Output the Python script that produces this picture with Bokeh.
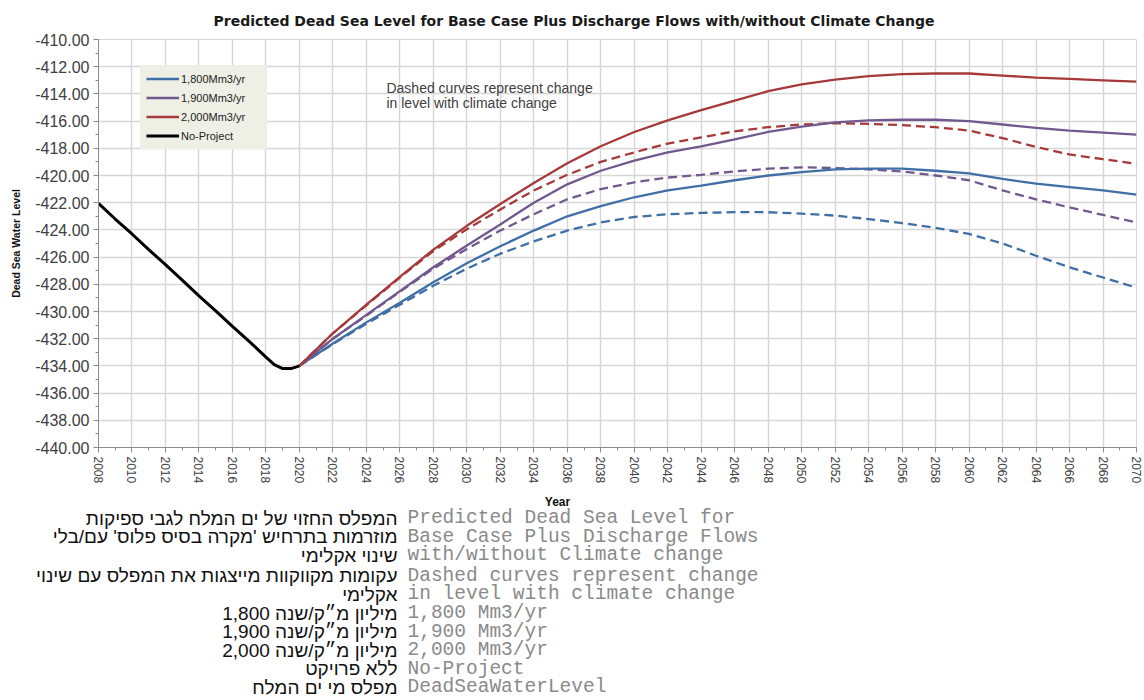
from bokeh.plotting import figure
from bokeh.models import (ColumnDataSource, FixedTicker, NumeralTickFormatter, Legend,
                          LegendItem, Label, Range1d, Title)
from bokeh.embed import file_html
from bokeh.resources import INLINE
from bokeh.core.properties import value

# ---------------- data ----------------
years_noproj = [2008, 2009, 2010, 2011, 2012, 2013, 2014, 2015, 2016, 2017, 2018,
                2018.5, 2019, 2019.5, 2020]
level_noproj = [-422.05, -423.2, -424.3, -425.45, -426.55, -427.7, -428.85, -429.95,
                -431.1, -432.2, -433.35, -433.9, -434.2, -434.2, -434.0]

years_proj = list(range(2020, 2071, 2))

flow_1800 = [-434.0, -432.35, -430.8, -429.35, -427.85, -426.45, -425.2, -424.05, -423.0,
             -422.25, -421.6, -421.1, -420.75, -420.35, -420.0, -419.75, -419.55, -419.5,
             -419.5, -419.65, -419.85, -420.25, -420.6, -420.85, -421.1, -421.4]
flow_1800_cc = [-434.0, -432.4, -430.9, -429.5, -428.1, -426.85, -425.75, -424.85, -424.05,
                -423.45, -423.05, -422.85, -422.75, -422.7, -422.7, -422.8, -422.95, -423.2,
                -423.5, -423.85, -424.3, -425.0, -425.9, -426.75, -427.5, -428.25]
flow_1900 = [-434.0, -432.0, -430.25, -428.5, -426.75, -425.15, -423.6, -422.0, -420.65,
             -419.65, -418.9, -418.3, -417.85, -417.35, -416.8, -416.4, -416.1, -415.95,
             -415.9, -415.9, -416.0, -416.25, -416.5, -416.7, -416.85, -417.0]
flow_1900_cc = [-434.0, -432.0, -430.3, -428.55, -426.85, -425.4, -424.05, -422.85, -421.75,
                -421.0, -420.5, -420.15, -419.95, -419.7, -419.5, -419.4, -419.45, -419.55,
                -419.7, -420.0, -420.35, -421.1, -421.75, -422.35, -422.9, -423.45]
flow_2000 = [-434.0, -431.6, -429.5, -427.45, -425.45, -423.7, -422.1, -420.55, -419.1,
             -417.85, -416.8, -415.95, -415.2, -414.5, -413.8, -413.3, -412.95, -412.7,
             -412.55, -412.5, -412.5, -412.65, -412.8, -412.9, -413.0, -413.1]
flow_2000_cc = [-434.0, -431.6, -429.55, -427.5, -425.55, -423.95, -422.5, -421.1, -419.95,
                -419.0, -418.3, -417.65, -417.2, -416.75, -416.45, -416.25, -416.15, -416.2,
                -416.3, -416.45, -416.7, -417.25, -417.9, -418.45, -418.8, -419.15]

series_labels = ["1,800Mm3/yr", "1,900Mm3/yr", "2,000Mm3/yr", "No-Project"]

y_major = list(range(-440, -409, 2))
y_minor = list(range(-440, -409, 1))
x_major = list(range(2008, 2071, 2))
x_minor = list(range(2008, 2071, 1))

title_text = "Predicted Dead Sea Level for Base Case Plus Discharge Flows with/without Climate Change"
note_lines = ["Dashed curves represent change", "in level with climate change"]
x_title = "Year"
y_title = "Dead Sea Water Level"

hebrew_rows = ["המפלס החזוי של ים המלח לגבי ספיקות",
               "מוזרמות בתרחיש 'מקרה בסיס פלוס' עם/בלי",
               "שינוי אקלימי",
               "עקומות מקווקוות מייצגות את המפלס עם שינוי",
               "אקלימי",
               "1,800 מיליון מ״ק/שנה",
               "1,900 מיליון מ״ק/שנה",
               "2,000 מיליון מ״ק/שנה",
               "ללא פרויקט",
               "מפלס מי ים המלח"]
english_rows = ["Predicted Dead Sea Level for",
                "Base Case Plus Discharge Flows",
                "with/without Climate change",
                "Dashed curves represent change",
                "in level with climate change",
                "1,800 Mm3/yr",
                "1,900 Mm3/yr",
                "2,000 Mm3/yr",
                "No-Project",
                "DeadSeaWaterLevel"]

# ---------------- styles ----------------
BLUE = "#3f6fa6"
PURPLE = "#71598f"
RED = "#a63a3a"
GRID = "#d6d6d6"
AXIS = "#8c8c8c"
TXT = "#404040"

W = 1144
H1 = 490
H2 = 210

p = figure(width=W, height=H1, output_backend="svg", toolbar_location=None,
           x_range=Range1d(2008, 2070), y_range=Range1d(-440, -410),
           min_border_left=98, min_border_right=8, min_border_top=38, min_border_bottom=43,
           background_fill_color="white", border_fill_color="white")
p.title = Title(text=title_text, align="left", offset=115, standoff=21,
                text_font="DejaVu Sans", text_font_size="14px", text_font_style="bold",
                text_color="#1a1a1a")

p.xaxis.ticker = FixedTicker(ticks=x_major, minor_ticks=x_minor)
p.yaxis.ticker = FixedTicker(ticks=y_major, minor_ticks=y_minor)
p.yaxis.formatter = NumeralTickFormatter(format="0.00")
p.xaxis.major_label_orientation = "vertical"

for ax in (p.xaxis, p.yaxis):
    ax.axis_line_color = AXIS
    ax.major_tick_line_color = AXIS
    ax.minor_tick_line_color = AXIS
    ax.major_tick_out = 5
    ax.major_tick_in = 0
    ax.minor_tick_out = 3
    ax.minor_tick_in = 0
    ax.major_label_text_color = TXT
    ax.major_label_text_font = "Liberation Sans"

p.yaxis.major_label_text_font_size = "16px"
p.yaxis.major_label_standoff = 4
p.xaxis.major_label_text_font_size = "12px"
p.xaxis.major_label_standoff = 4

p.yaxis.axis_label = y_title
p.yaxis.axis_label_text_font = "Liberation Sans"
p.yaxis.axis_label_text_font_size = "10.5px"
p.yaxis.axis_label_text_font_style = "bold"
p.yaxis.axis_label_text_color = "#111111"
p.yaxis.axis_label_standoff = 10

p.xgrid.ticker = FixedTicker(ticks=x_major)
p.ygrid.ticker = FixedTicker(ticks=y_major)
p.xgrid.grid_line_color = GRID
p.ygrid.grid_line_color = GRID
p.xgrid.grid_line_width = 1.4
p.ygrid.grid_line_width = 1.4
p.outline_line_color = GRID

# dashed (climate change) curves
p.line(years_proj, flow_1800_cc, line_color=BLUE, line_width=2.3, line_dash="9 5")
p.line(years_proj, flow_1900_cc, line_color=PURPLE, line_width=2.3, line_dash="9 5")
p.line(years_proj, flow_2000_cc, line_color=RED, line_width=2.3, line_dash="9 5")
# solid curves
r1 = p.line(years_proj, flow_1800, line_color=BLUE, line_width=2.3)
r2 = p.line(years_proj, flow_1900, line_color=PURPLE, line_width=2.3)
r3 = p.line(years_proj, flow_2000, line_color=RED, line_width=2.3)
r4 = p.line(years_noproj, level_noproj, line_color="black", line_width=3)

legend = Legend(items=[LegendItem(label=series_labels[0], renderers=[r1]),
                       LegendItem(label=series_labels[1], renderers=[r2]),
                       LegendItem(label=series_labels[2], renderers=[r3]),
                       LegendItem(label=series_labels[3], renderers=[r4])],
                location=(42, 298), padding=6, spacing=4, margin=0,
                glyph_width=33, glyph_height=15, label_height=15, label_standoff=2,
                label_width=80,
                label_text_font="Liberation Sans", label_text_font_size="11px",
                label_text_color="#222222",
                background_fill_color="#eef0e6", background_fill_alpha=1.0,
                border_line_alpha=0)
p.add_layout(legend)

for i, line in enumerate(note_lines):
    p.add_layout(Label(x=2025.2, y=-413.55 - 1.1 * i, text=line, text_baseline="middle",
                       text_font="Liberation Sans", text_font_size="14px",
                       text_color=TXT))

# ---------------- bottom text table (separate root, full-width frame) ----------------
t = figure(width=W, height=H2, output_backend="svg", toolbar_location=None,
           x_range=Range1d(0, W), y_range=Range1d(H2, 0),
           x_axis_location=None, y_axis_location=None,
           min_border=0, min_border_left=0, min_border_right=0, min_border_top=0,
           min_border_bottom=0, outline_line_color=None)
t.grid.visible = False

t.text(x=[557], y=[11], text=[x_title], text_align="center", text_baseline="middle",
       text_font=value("Liberation Sans"), text_font_size="12px", text_font_style="bold",
       text_color="#111111")

row_y = [27.5 + i * 18.6 + (2 if i >= 3 else 0) for i in range(len(hebrew_rows))]
src = ColumnDataSource(dict(y=row_y, heb=hebrew_rows, eng=english_rows,
                            xh=[397] * len(row_y), xe=[407] * len(row_y)))
t.text(x="xh", y="y", text="heb", source=src, text_align="right", text_baseline="middle",
       text_font=value("Liberation Sans"), text_font_size="19px", text_color="#111111")
t.text(x="xe", y="y", text="eng", source=src, text_align="left", text_baseline="middle",
       text_font=value("Liberation Mono"), text_font_size="19.5px", text_color="#8a8a8a")

open("out.html", "w").write(file_html([p, t], INLINE))
